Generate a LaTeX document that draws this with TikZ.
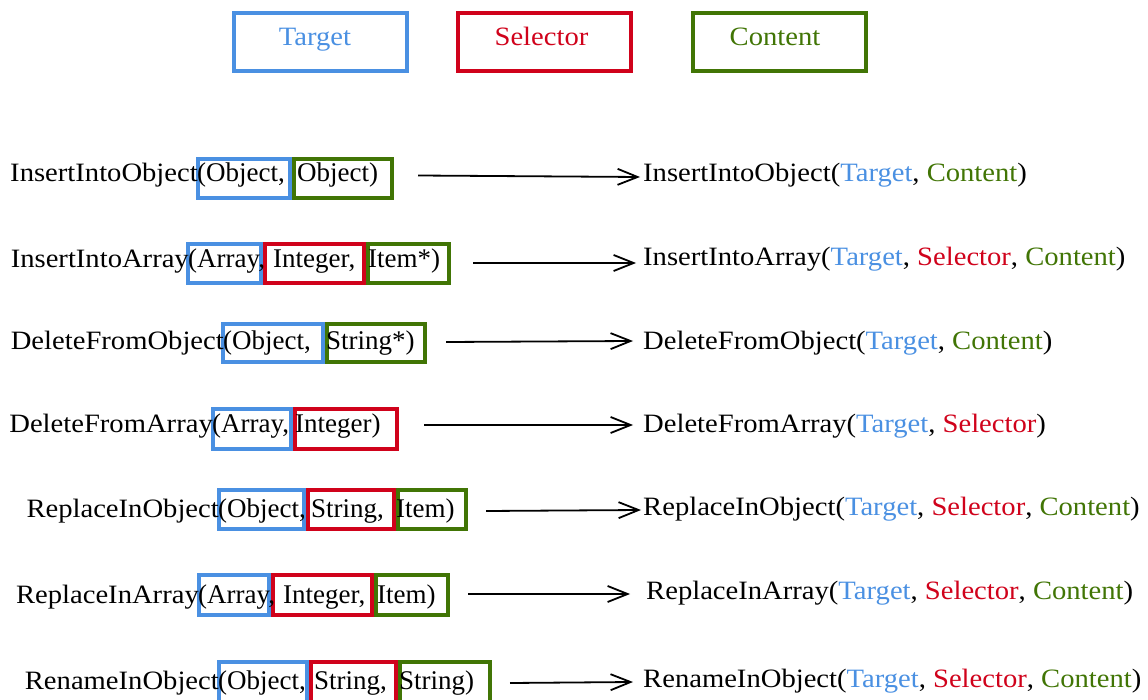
\documentclass[tikz,border=0pt]{standalone}
\usepackage{fontspec}
\setmainfont{Liberation Serif}[FakeStretch=1.08]
\newfontfamily\argfont{Liberation Serif}
\usetikzlibrary{arrows.meta}
\definecolor{tblue}{HTML}{4A90E2}
\definecolor{tred}{HTML}{D0021B}
\definecolor{tgreen}{HTML}{417505}
\newcommand\Tg{\textcolor{tblue}{Target}}
\newcommand\Sl{\textcolor{tred}{Selector}}
\newcommand\Ct{\textcolor{tgreen}{Content}}
\newcommand\argbox[6]{\node[abox,draw=#2,minimum width={#4-#3-4},minimum height={#6-#5-4}] (#1) at ({(#3+#4)/2},{(#5+#6)/2}) {};}
\begin{document}
\begin{tikzpicture}[x=1pt,y=-1pt,
  txt/.style={inner sep=0pt,anchor=base west,font=\fontsize{26.5}{30}\selectfont},
  atxt/.style={inner sep=0pt,anchor=base west,font=\argfont\fontsize{27}{30}\selectfont},
  ntxt/.style={inner sep=0pt,anchor=base east,font=\fontsize{26.5}{30}\selectfont},
  legtxt/.style={inner sep=0pt,anchor=base,font=\fontsize{26.5}{30}\selectfont},
  abox/.style={line width=4pt,inner sep=0pt},
  arr/.style={line width=1.8pt,-{Straight Barb[length=20pt,width=16pt,line width=1.8pt]}}]
\useasboundingbox (0,0) rectangle (1148,700);
% legend
\argbox{lgT}{tblue}{232}{409}{11}{73}
\argbox{lgS}{tred}{456}{633}{11}{73}
\argbox{lgC}{tgreen}{691}{868}{11}{73}
\node[legtxt,text=tblue] (lgTt) at (315,46) {Target};
\node[legtxt,text=tred] (lgSt) at (541.5,46) {Selector};
\node[legtxt,text=tgreen] (lgCt) at (775,46) {Content};
% row 1
\argbox{b1t}{tblue}{196}{292}{157}{200}
\argbox{b1c}{tgreen}{292}{394}{157}{200}
\node[ntxt] (l1) at (198,182) {InsertIntoObject};
\node[atxt] (a1t) at (197,182) {(Object,};
\node[atxt] (a1c) at (297,182) {Object)};
\node[txt] (r1) at (643,182) {InsertIntoObject(\Tg, \Ct)};
\coordinate (s1) at (418,175.5);
\coordinate (e1) at (640,177);
\draw[arr] (s1) -- (e1);
% row 2
\argbox{b2t}{tblue}{186}{263}{242}{285}
\argbox{b2s}{tred}{263}{366}{242}{285}
\argbox{b2c}{tgreen}{366}{451}{242}{285}
\node[ntxt] (l2) at (189,268) {InsertIntoArray};
\node[atxt] (a2t) at (188,268) {(Array,};
\node[atxt] (a2s) at (273,268) {Integer,};
\node[atxt] (a2c) at (368,268) {Item*)};
\node[txt] (r2) at (643,266) {InsertIntoArray(\Tg, \Sl, \Ct)};
\coordinate (s2) at (473,263);
\coordinate (e2) at (636,263);
\draw[arr] (s2) -- (e2);
% row 3
\argbox{b3t}{tblue}{221}{325}{322}{364}
\argbox{b3c}{tgreen}{325}{427}{322}{364}
\node[ntxt] (l3) at (224,349) {DeleteFromObject};
\node[atxt] (a3t) at (223,349) {(Object,};
\node[atxt] (a3c) at (326,349) {String*)};
\node[txt] (r3) at (643,349) {DeleteFromObject(\Tg, \Ct)};
\coordinate (s3) at (446,342);
\coordinate (e3) at (633,341);
\draw[arr] (s3) -- (e3);
% row 4
\argbox{b4t}{tblue}{211}{293}{407}{451}
\argbox{b4s}{tred}{293}{399}{407}{451}
\node[ntxt] (l4) at (213,432) {DeleteFromArray};
\node[atxt] (a4t) at (212,432) {(Array,};
\node[atxt] (a4s) at (295,432) {Integer)};
\node[txt] (r4) at (643,432) {DeleteFromArray(\Tg, \Sl)};
\coordinate (s4) at (424,425);
\coordinate (e4) at (633,425);
\draw[arr] (s4) -- (e4);
% row 5
\argbox{b5t}{tblue}{217}{306}{488}{531}
\argbox{b5s}{tred}{306}{396}{488}{531}
\argbox{b5c}{tgreen}{396}{468}{488}{531}
\node[ntxt] (l5) at (219,517) {ReplaceInObject};
\node[atxt] (a5t) at (218,517) {(Object,};
\node[atxt] (a5s) at (311,517) {String,};
\node[atxt] (a5c) at (396,517) {Item)};
\node[txt] (r5) at (643,515) {ReplaceInObject(\Tg, \Sl, \Ct)};
\coordinate (s5) at (486,511);
\coordinate (e5) at (641,510);
\draw[arr] (s5) -- (e5);
% row 6
\argbox{b6t}{tblue}{197}{271}{573}{617}
\argbox{b6s}{tred}{271}{374}{573}{617}
\argbox{b6c}{tgreen}{374}{450}{573}{617}
\node[ntxt] (l6) at (199,603) {ReplaceInArray};
\node[atxt] (a6t) at (198,603) {(Array,};
\node[atxt] (a6s) at (283,603) {Integer,};
\node[atxt] (a6c) at (377,603) {Item)};
\node[txt] (r6) at (646,599) {ReplaceInArray(\Tg, \Sl, \Ct)};
\coordinate (s6) at (468,594);
\coordinate (e6) at (630,594);
\draw[arr] (s6) -- (e6);
% row 7
\argbox{b7t}{tblue}{217}{309}{660}{704}
\argbox{b7s}{tred}{309}{398}{660}{704}
\argbox{b7c}{tgreen}{398}{492}{660}{704}
\node[ntxt] (l7) at (219,689) {RenameInObject};
\node[atxt] (a7t) at (218,689) {(Object,};
\node[atxt] (a7s) at (314,689) {String,};
\node[atxt] (a7c) at (399,689) {String)};
\node[txt] (r7) at (643,687) {RenameInObject(\Tg, \Sl, \Ct)};
\coordinate (s7) at (510,683);
\coordinate (e7) at (633,682);
\draw[arr] (s7) -- (e7);
\end{tikzpicture}
\end{document}
